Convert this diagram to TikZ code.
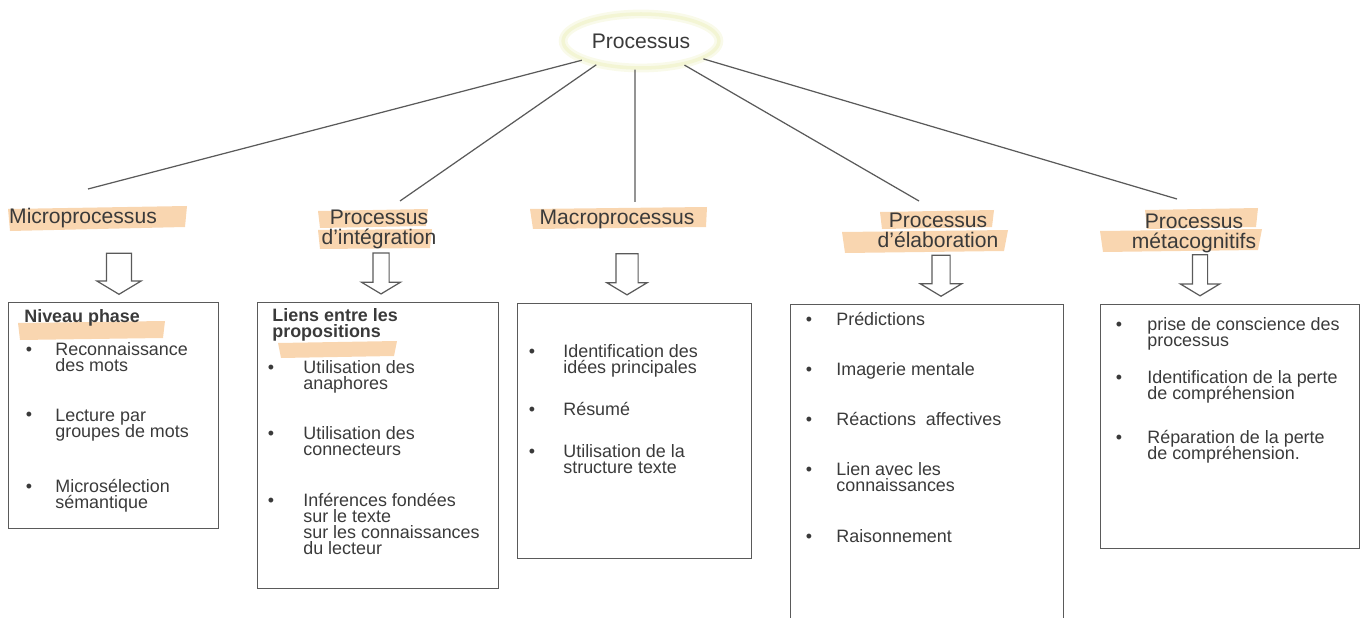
\documentclass[tikz,border=0pt]{standalone}
\usepackage{fontspec}
\setmainfont{Liberation Sans}
\usetikzlibrary{shapes.geometric, shapes.arrows}

\definecolor{inkgray}{RGB}{58,58,58}
\definecolor{linegray}{RGB}{90,90,90}
\definecolor{marker}{RGB}{249,214,176}
\definecolor{glow}{RGB}{243,245,212}

\newcommand\tightlines{\lineskiplimit=-20pt\relax}

\tikzset{
  head/.style={font=\fontsize{12}{11.4}\selectfont\tightlines, text=inkgray, align=center, inner sep=0pt},
  item/.style={font=\fontsize{10.2}{9.1}\selectfont\tightlines, text=inkgray, align=left, anchor=base west, inner sep=0pt},
  title/.style={item, font=\fontsize{10.2}{9.1}\selectfont\tightlines\bfseries},
  dot/.style={font=\fontsize{10.2}{9.1}\selectfont, text=inkgray, anchor=base, inner sep=0pt},
  panel/.style={draw=linegray, line width=0.8pt, anchor=north west, inner sep=0pt},
  hollow/.style={shape=single arrow, draw=linegray, line width=0.7pt, rotate=-90,
    minimum height=0.82cm, single arrow tip angle=118, inner sep=0pt, text width=0pt, text depth=0pt},
  branch/.style={draw=linegray, line width=0.7pt},
}

\begin{document}
\begin{tikzpicture}[x=0.02cm, y=-0.02cm]
		\useasboundingbox (0,0) rectangle (1365,618);
		
		% marker strokes
		\fill[marker] (8,209) -- (187,206) -- (185,227) -- (10,231) -- cycle;
		\fill[marker] (318,211) -- (428,209) -- (426,226) -- (320,228) -- cycle;
		\fill[marker] (318,230) -- (432,229) -- (430,248) -- (320,249) -- cycle;
		\fill[marker] (530,209) -- (707,207) -- (706,227) -- (533,229) -- cycle;
		\fill[marker] (880,212) -- (994,210) -- (992,227) -- (882,229) -- cycle;
		\fill[marker] (842,232) -- (1008,230) -- (1004,251) -- (845,253) -- cycle;
		\fill[marker] (1145,210) -- (1258,208) -- (1256,227) -- (1147,229) -- cycle;
		\fill[marker] (1100,231) -- (1262,229) -- (1258,250) -- (1103,252) -- cycle;
		\fill[marker] (18,323) -- (165,321) -- (163,338) -- (20,340) -- cycle;
		\fill[marker] (278,343) -- (397,341) -- (394,356) -- (281,358) -- cycle;
		
		% top
		\node[ellipse, draw=glow, line width=2pt, preaction={draw=glow!50!white, line width=5pt},
		  minimum width=3.04cm, minimum height=1.08cm, font=\fontsize{12}{14}\selectfont, text=inkgray] (top) at (641,41) {Processus};
		
		% headers
		\node[head] (micro) at (83,218) {Microprocessus};
		\node[head] (integ) at (379,229) {Processus\\d’intégration};
		\node[head] (macro) at (617,219) {Macroprocessus};
		\node[head] (elab) at (938,230) {Processus\\d’élaboration};
		\node[head] (meta) at (1194,233) {Processus\\métacognitifs};
		
		\coordinate (e1) at (88,189);
		\coordinate (e2) at (400,201);
		\coordinate (e3) at (635,202);
		\coordinate (e4) at (919,201);
		\coordinate (e5) at (1177,199);
		
		\draw[branch] (top.198) -- (e1);
		\draw[branch] (top.208) -- (e2);
		\draw[branch] (top.258) -- (e3);
		\draw[branch] (top.331) -- (e4);
		\draw[branch] (top.344) -- (e5);
		
		% arrows
		\node[hollow, text height=0.48cm, single arrow head extend=0.19cm] (a1) at (119,270) {};
		\node[hollow, text height=0.30cm, single arrow head extend=0.23cm] (a2) at (381,271) {};
		\node[hollow, text height=0.42cm, single arrow head extend=0.18cm] (a3) at (627,271) {};
		\node[hollow, text height=0.34cm, single arrow head extend=0.23cm] (a4) at (941,273) {};
		\node[hollow, text height=0.28cm, single arrow head extend=0.24cm] (a5) at (1200,273) {};
		
		% boxes
		\node[panel, minimum width=4.20cm, minimum height=4.52cm] (p1) at (8,302) {};
		\node[panel, minimum width=4.82cm, minimum height=5.72cm] (p2) at (257,302) {};
		\node[panel, minimum width=4.68cm, minimum height=5.10cm] (p3) at (517,303) {};
		\node[panel, minimum width=5.46cm, minimum height=6.60cm] (p4) at (790,304) {};
		\node[panel, minimum width=5.18cm, minimum height=4.88cm] (p5) at (1100,304) {};
		
		% box 1 (multi-line items sit on their last baseline)
		\node[title] (t1) at (24,322) {Niveau phase};
		\node[dot] (d11) at (29,355) {•};
		\node[item] (i11) at (55,371) {Reconnaissance\\des mots};
		\node[dot] (d12) at (29,420) {•};
		\node[item] (i12) at (55,437) {Lecture par\\groupes de mots};
		\node[dot] (d13) at (29,492) {•};
		\node[item] (i13) at (55,508) {Microsélection\\sémantique};
		
		% box 2
		\node[title] (t2) at (272,337) {Liens entre les\\propositions};
		\node[dot] (d21) at (271,373) {•};
		\node[item] (i21) at (303,389) {Utilisation des\\anaphores};
		\node[dot] (d22) at (271,439) {•};
		\node[item] (i22) at (303,455) {Utilisation des\\connecteurs};
		\node[dot] (d23) at (271,506) {•};
		\node[item] (i23) at (303,554) {Inférences fondées\\sur le texte\\sur les connaissances\\du lecteur};
		
		% box 3
		\node[dot] (d31) at (532,357) {•};
		\node[item] (i31) at (563,373) {Identification des\\idées principales};
		\node[dot] (d32) at (532,415) {•};
		\node[item] (i32) at (563,415) {Résumé};
		\node[dot] (d33) at (532,457) {•};
		\node[item] (i33) at (563,473) {Utilisation de la\\structure texte};
		
		% box 4
		\node[dot] (d41) at (809,325) {•};
		\node[item] (i41) at (836,325) {Prédictions};
		\node[dot] (d42) at (809,375) {•};
		\node[item] (i42) at (836,375) {Imagerie mentale};
		\node[dot] (d43) at (809,425) {•};
		\node[item] (i43) at (836,425) {Réactions\ \ affectives};
		\node[dot] (d44) at (809,475) {•};
		\node[item] (i44) at (836,491) {Lien avec les\\connaissances};
		\node[dot] (d45) at (809,542) {•};
		\node[item] (i45) at (836,542) {Raisonnement};
		
		% box 5
		\node[dot] (d51) at (1119,330) {•};
		\node[item] (i51) at (1147,346) {prise de conscience des\\processus};
		\node[dot] (d52) at (1119,383) {•};
		\node[item] (i52) at (1147,399) {Identification de la perte\\de compréhension};
		\node[dot] (d53) at (1119,443) {•};
		\node[item] (i53) at (1147,459) {Réparation de la perte\\de compréhension.};
\end{tikzpicture}
\end{document}
